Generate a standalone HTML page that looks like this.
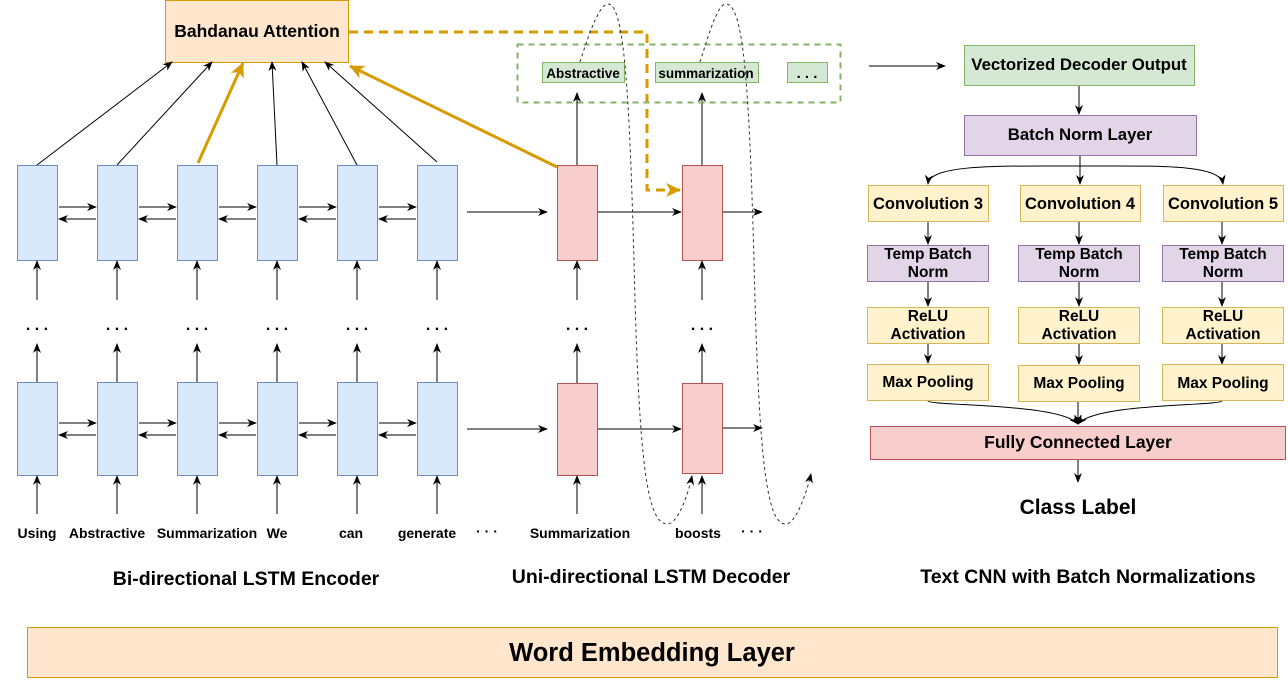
<!DOCTYPE html>
<html><head><meta charset="utf-8"><style>
body{margin:0;background:#fff;}
svg{display:block;font-family:"Liberation Sans",Arial,sans-serif;font-weight:bold;}
</style></head><body>
<svg width="1288" height="681" viewBox="0 0 1288 681" xmlns="http://www.w3.org/2000/svg">
<defs>
<marker id="a" markerWidth="10" markerHeight="10" refX="9" refY="5" orient="auto" markerUnits="userSpaceOnUse"><path d="M0,1 L10,5 L0,9 L3,5z" fill="#000"/></marker>
<marker id="o" markerWidth="16" markerHeight="16" refX="14" refY="8" orient="auto" markerUnits="userSpaceOnUse"><path d="M0,1 L15,8 L0,15 L4,8z" fill="#d79b00"/></marker>
</defs>
<rect x="165.5" y="0.5" width="183" height="62" fill="#ffe6cc" stroke="#d79b00"/>
<text x="257" y="37" font-size="17.5" text-anchor="middle">Bahdanau Attention</text>
<g stroke="#000" stroke-width="1" fill="none" marker-end="url(#a)">
<line x1="37" y1="165" x2="172" y2="62"/>
<line x1="117" y1="165" x2="212" y2="62"/>
<line x1="277" y1="165" x2="272" y2="62"/>
<line x1="357" y1="165" x2="302" y2="62"/>
<line x1="437" y1="162" x2="325" y2="62"/>
</g>
<g stroke="#d79b00" stroke-width="3" fill="none" marker-end="url(#o)">
<line x1="198" y1="163" x2="243" y2="63"/>
<line x1="557" y1="167" x2="350" y2="66"/>
</g>
<path d="M349,32 H647 V190 H680" stroke="#d79b00" stroke-width="3" stroke-dasharray="9,6" fill="none" marker-end="url(#o)"/>
<g fill="#dae8fc" stroke="#6c8ebf">
<rect x="17.5" y="165.5" width="40" height="95"/><rect x="97.5" y="165.5" width="40" height="95"/><rect x="177.5" y="165.5" width="40" height="95"/><rect x="257.5" y="165.5" width="40" height="95"/><rect x="337.5" y="165.5" width="40" height="95"/><rect x="417.5" y="165.5" width="40" height="95"/>
<rect x="17.5" y="382.5" width="40" height="93"/><rect x="97.5" y="382.5" width="40" height="93"/><rect x="177.5" y="382.5" width="40" height="93"/><rect x="257.5" y="382.5" width="40" height="93"/><rect x="337.5" y="382.5" width="40" height="93"/><rect x="417.5" y="382.5" width="40" height="93"/>
</g>
<g fill="#f8cecc" stroke="#b85450">
<rect x="557.5" y="165.5" width="40" height="95"/><rect x="682.5" y="165.5" width="40" height="95"/>
<rect x="557.5" y="383.5" width="40" height="92"/><rect x="682.5" y="383.5" width="40" height="90"/>
</g>
<g stroke="#000" stroke-width="1" fill="none" marker-end="url(#a)">
<line x1="59" y1="207" x2="96" y2="207"/><line x1="96" y1="219" x2="59" y2="219"/>
<line x1="139" y1="207" x2="176" y2="207"/><line x1="176" y1="219" x2="139" y2="219"/>
<line x1="219" y1="207" x2="256" y2="207"/><line x1="256" y1="219" x2="219" y2="219"/>
<line x1="299" y1="207" x2="336" y2="207"/><line x1="336" y1="219" x2="299" y2="219"/>
<line x1="379" y1="207" x2="416" y2="207"/><line x1="416" y1="219" x2="379" y2="219"/>
<line x1="59" y1="423" x2="96" y2="423"/><line x1="96" y1="435" x2="59" y2="435"/>
<line x1="139" y1="423" x2="176" y2="423"/><line x1="176" y1="435" x2="139" y2="435"/>
<line x1="219" y1="423" x2="256" y2="423"/><line x1="256" y1="435" x2="219" y2="435"/>
<line x1="299" y1="423" x2="336" y2="423"/><line x1="336" y1="435" x2="299" y2="435"/>
<line x1="379" y1="423" x2="416" y2="423"/><line x1="416" y1="435" x2="379" y2="435"/>
<line x1="467" y1="212" x2="547" y2="212"/><line x1="467" y1="429" x2="547" y2="429"/>
<line x1="598" y1="212" x2="681" y2="212"/><line x1="723" y1="212" x2="762" y2="212"/>
<line x1="598" y1="429" x2="681" y2="429"/><line x1="723" y1="428" x2="762" y2="428"/>
<line x1="37" y1="300" x2="37" y2="261"/><line x1="117" y1="300" x2="117" y2="261"/><line x1="197" y1="300" x2="197" y2="261"/><line x1="277" y1="300" x2="277" y2="261"/><line x1="357" y1="300" x2="357" y2="261"/><line x1="437" y1="300" x2="437" y2="261"/>
<line x1="37" y1="382" x2="37" y2="344"/><line x1="117" y1="382" x2="117" y2="344"/><line x1="197" y1="382" x2="197" y2="344"/><line x1="277" y1="382" x2="277" y2="344"/><line x1="357" y1="382" x2="357" y2="344"/><line x1="437" y1="382" x2="437" y2="344"/>
<line x1="37" y1="514" x2="37" y2="476"/><line x1="117" y1="514" x2="117" y2="476"/><line x1="197" y1="514" x2="197" y2="476"/><line x1="277" y1="514" x2="277" y2="476"/><line x1="357" y1="514" x2="357" y2="476"/><line x1="437" y1="514" x2="437" y2="476"/>
<line x1="577" y1="300" x2="577" y2="261"/><line x1="702" y1="300" x2="702" y2="261"/>
<line x1="577" y1="383" x2="577" y2="344"/><line x1="702" y1="383" x2="702" y2="344"/>
<line x1="577" y1="514" x2="577" y2="476"/><line x1="702" y1="514" x2="702" y2="476"/>
<line x1="577" y1="165" x2="577" y2="93"/><line x1="702" y1="165" x2="702" y2="93"/>
<line x1="869" y1="66" x2="945" y2="66"/>
</g>
<g font-size="16" text-anchor="middle" font-weight="bold">
<text x="37" y="330">. . .</text><text x="117" y="330">. . .</text><text x="197" y="330">. . .</text><text x="277" y="330">. . .</text><text x="357" y="330">. . .</text><text x="437" y="330">. . .</text><text x="577" y="330">. . .</text><text x="702" y="330">. . .</text>
</g>
<rect x="517.5" y="44.5" width="323" height="58" fill="none" stroke="#82b366" stroke-width="2" stroke-dasharray="6,5"/>
<g fill="#d5e8d4" stroke="#82b366"><rect x="542.5" y="62.5" width="82" height="20"/><rect x="655.5" y="62.5" width="103" height="20"/><rect x="787.5" y="62.5" width="40" height="20"/></g>
<text x="583" y="78" font-size="13.5" text-anchor="middle">Abstractive</text>
<text x="706" y="78" font-size="13.5" text-anchor="middle">summarization</text>
<text x="807" y="78" font-size="15" text-anchor="middle">. . .</text>
<g stroke="#333" stroke-width="1" stroke-dasharray="3,3" fill="none">
<path d="M580,62 C590,30 600,4 608,4 C625,4 630,100 635,300 C640,470 648,525 668,524 C678,523 688,495 692,476" marker-end="url(#a)"/>
<path d="M700,62 C710,30 718,4 726,4 C745,4 750,100 755,300 C760,470 768,525 786,524 C796,523 806,495 811,474" marker-end="url(#a)"/>
</g>
<g font-size="14" text-anchor="middle" font-weight="bold">
<text x="37" y="538">Using</text><text x="107" y="538">Abstractive</text><text x="207" y="538">Summarization</text><text x="277" y="538">We</text><text x="351" y="538">can</text><text x="427" y="538">generate</text><text x="487" y="536">· · ·</text>
<text x="580" y="538">Summarization</text><text x="698" y="538">boosts</text><text x="752" y="536">· · ·</text>
</g>
<g font-size="19.5" text-anchor="middle">
<text x="246" y="585">Bi-directional LSTM Encoder</text>
<text x="651" y="583">Uni-directional LSTM Decoder</text>
<text x="1088" y="583">Text CNN with Batch Normalizations</text>
</g>
<rect x="964.5" y="45.5" width="230" height="40" fill="#d5e8d4" stroke="#82b366"/>
<text x="1079" y="70" font-size="16.8" text-anchor="middle">Vectorized Decoder Output</text>
<rect x="964.5" y="115.5" width="232" height="40" fill="#e1d5e7" stroke="#9673a6"/>
<text x="1080" y="140" font-size="16.8" text-anchor="middle">Batch Norm Layer</text>
<g stroke="#000" fill="none" marker-end="url(#a)">
<line x1="1079" y1="86" x2="1079" y2="114"/>
<line x1="1080" y1="156" x2="1080" y2="184"/>
<path d="M1080,166 C1000,166 930,164 928,184"/>
<path d="M1080,166 C1160,166 1220,164 1223,184"/>
<line x1="928" y1="222" x2="928" y2="244"/><line x1="1079" y1="222" x2="1079" y2="244"/><line x1="1222" y1="222" x2="1222" y2="244"/>
<line x1="928" y1="282" x2="928" y2="306"/><line x1="1079" y1="282" x2="1079" y2="306"/><line x1="1222" y1="282" x2="1222" y2="306"/>
<line x1="928" y1="344" x2="928" y2="363"/><line x1="1079" y1="344" x2="1079" y2="364"/><line x1="1222" y1="344" x2="1222" y2="364"/>
<path d="M928,401 C930,406 1060,403 1078,424"/>
<path d="M1222,401 C1220,406 1095,403 1078,424"/>
<line x1="1078" y1="401" x2="1078" y2="424"/>
<line x1="1078" y1="460" x2="1078" y2="482"/>
</g>
<g fill="#fff2cc" stroke="#d6b656">
<rect x="868.5" y="185.5" width="120" height="36"/><rect x="1020.5" y="185.5" width="120" height="36"/><rect x="1163.5" y="185.5" width="120" height="36"/>
<rect x="867.5" y="307.5" width="121" height="36"/><rect x="1018.5" y="307.5" width="121" height="36"/><rect x="1162.5" y="307.5" width="121" height="36"/>
<rect x="867.5" y="364.5" width="121" height="36"/><rect x="1018.5" y="365.5" width="121" height="36"/><rect x="1162.5" y="364.5" width="121" height="36"/>
</g>
<g fill="#e1d5e7" stroke="#9673a6">
<rect x="867.5" y="245.5" width="121" height="36"/><rect x="1018.5" y="245.5" width="121" height="36"/><rect x="1162.5" y="245.5" width="121" height="36"/>
</g>
<g font-size="16.5" text-anchor="middle">
<text x="928" y="209">Convolution 3</text><text x="1080" y="209">Convolution 4</text><text x="1223" y="209">Convolution 5</text>
</g>
<g font-size="15.5" text-anchor="middle">
<text x="928" y="259">Temp Batch</text><text x="928" y="277">Norm</text>
<text x="1079" y="259">Temp Batch</text><text x="1079" y="277">Norm</text>
<text x="1223" y="259">Temp Batch</text><text x="1223" y="277">Norm</text>
<text x="928" y="321">ReLU</text><text x="928" y="339">Activation</text>
<text x="1079" y="321">ReLU</text><text x="1079" y="339">Activation</text>
<text x="1223" y="321">ReLU</text><text x="1223" y="339">Activation</text>
<text x="928" y="387">Max Pooling</text><text x="1079" y="388">Max Pooling</text><text x="1223" y="388">Max Pooling</text>
</g>
<rect x="870.5" y="426.5" width="415" height="33" fill="#f8cecc" stroke="#b85450"/>
<text x="1078" y="448" font-size="17.5" text-anchor="middle">Fully Connected Layer</text>
<text x="1078" y="514" font-size="21" text-anchor="middle">Class Label</text>
<rect x="27.5" y="627.5" width="1250" height="50" fill="#ffe6cc" stroke="#d79b00"/>
<text x="652" y="661" font-size="25.5" text-anchor="middle">Word Embedding Layer</text>
</svg>
</body></html>
